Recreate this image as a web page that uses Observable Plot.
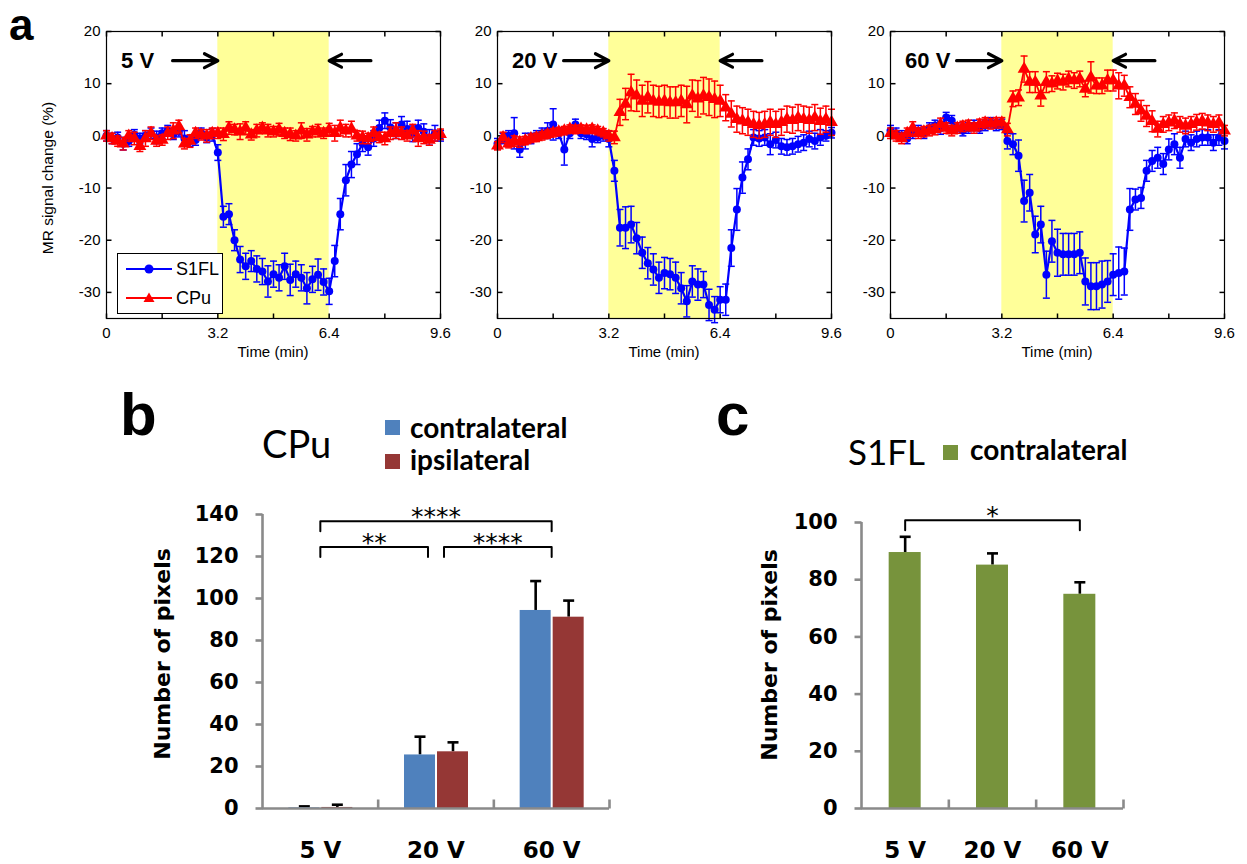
<!DOCTYPE html>
<html><head><meta charset="utf-8">
<script src="https://cdn.jsdelivr.net/npm/d3@7"></script>
<script src="https://cdn.jsdelivr.net/npm/@observablehq/plot@0.6"></script>
<style>
body{margin:0;background:#fff;}
#fig{position:relative;width:1247px;height:864px;overflow:hidden;background:#fff;font-family:"Liberation Sans",Arial,sans-serif;}
.abs{position:absolute;white-space:nowrap;}
.abs svg{overflow:visible;background:transparent;}
</style></head><body><div id="fig"></div>
<script>
// ---------- data: panel a (time courses) ----------
const time = [0,0.16,0.32,0.48,0.64,0.8,0.96,1.12,1.28,1.44,1.6,1.76,1.92,2.08,2.24,2.4,2.56,2.72,2.88,3.04,
3.2,3.36,3.52,3.68,3.84,4,4.16,4.32,4.48,4.64,4.8,4.96,5.12,5.28,5.44,5.6,5.76,5.92,6.08,6.24,6.4,
6.56,6.72,6.88,7.04,7.2,7.36,7.52,7.68,7.84,8,8.16,8.32,8.48,8.64,8.8,8.96,9.12,9.28,9.44,9.6];

const s1fl_5V = [0,-0.5,-0.3,-1.5,-1,0.2,-0.5,0,0.5,-0.3,0.5,1,0.3,0.8,-0.5,-1,-0.8,0.5,-0.3,0.2,
-3.2,-15.5,-15,-20,-23.7,-25,-24,-25.5,-26,-27.9,-26.5,-27.2,-25,-27.6,-26.5,-27.2,-29.2,-27.5,-26.6,-28,-29.8,
-24,-15,-8.5,-5.5,-3.5,-1.5,-2.2,-0.5,1.5,2.9,1.6,1,2.2,1.3,0.4,1.5,0.8,-0.3,0.5,0];
const s1flErr_5V = [1,1,1,1.2,1,1,1,1,1,1.2,1,1,1,1,1.5,1,1,1,1,1.2,
1.5,2,2,2,2.5,2.5,2,2.5,2.5,3,2.5,2.5,2.5,3,2.5,2.5,3,2.5,3,2.5,2.5,
3,3,3,2.5,2,1.5,1.5,1.5,1.5,1.5,1.5,1.5,1.5,1.5,1.5,1.5,1.5,1.5,1.5,1];
const cpu_5V = [0,-0.5,-1,-1.5,0,-0.5,-2,-0.5,0.5,-1,-0.8,0.5,1,1.8,-1.5,-1,0.5,0.2,0,0.5,
0.5,0.3,1.5,1.2,0.8,1.5,0.2,1,1.5,1,0.8,1.2,0.5,0.3,0,1,0.2,0.8,1,0.5,1.2,
0.5,1.5,1,1.3,0,-0.3,-0.5,0.5,-0.3,-0.5,0.5,1,0.5,0,1,-0.5,-0.3,-0.8,0,0.3];
const cpuErr_5V = [1,1,1,1.2,1,1.2,1,1.5,1.2,1,1,1.2,1.5,1.2,1,1.2,1,1,1.2,1,
1,1.2,1.2,1,1.5,1.2,1,1.2,1,1.2,1,1.2,1,1.2,1,1.5,1.2,1,1.2,1,1.2,
1.5,1.5,1.2,1.5,1,1.2,1,1.2,1,1.2,1.2,1.5,1.2,1,1.2,1.5,1.2,1,1,1];

const s1fl_20V = [-1.5,-0.5,0,0.5,-2.6,-1,-0.5,0,0.5,1,2.2,0.5,-2.6,0.5,2.2,0.5,0.3,-0.6,-0.3,0,
-0.6,-6.7,-17.6,-17.6,-17,-19.6,-22.4,-24.4,-25.6,-27.2,-26.3,-26.5,-27.2,-29.2,-31.7,-27.9,-28.5,-28.5,-32.4,-33.3,-31.4,
-31.4,-21.5,-14.1,-8,-4.5,-0.3,-0.5,-0.3,-1.6,-0.8,-2,-2.2,-2,-1.6,-1.3,-0.6,-1,-0.3,0,0.6];
const s1flErr_20V = [1,1,1,3,1.5,1.5,1,1,1,1.5,3,1,3,1,1,1,1,1.5,1,1,
1.5,2,3.5,4,3.5,3,3,3,3,3,3,3,3,3,3,3,3,2.5,3,2.5,2.5,
3,3.5,4,3,2,1.5,1.5,1.5,2,1.5,1.5,1.5,1.5,1.5,1.5,1.5,1.5,1.5,1,1];
const cpu_20V = [-1.9,-0.3,-1.5,-1,-1.2,-0.9,-0.5,-0.3,0,0.3,0.6,0.8,1,1.3,1.2,1.3,1.2,1.3,1,0.6,
0,-0.3,4.5,6.1,8.3,7.7,6.7,7.4,6.7,6.5,6.7,6.4,6.4,6.7,6,7.7,7.1,7.7,7.4,7,6.7,
5.4,4.2,3.2,2.9,2.6,2.2,2,2.2,2.6,2.2,2.6,3.2,3,3.5,3.2,3,3.5,2.8,3.2,2.6];
const cpuErr_20V = [0.8,1,0.8,1,1,0.8,0.8,0.8,0.8,0.8,0.8,0.8,0.8,0.8,0.8,0.8,0.8,0.8,0.8,0.8,
1,1.2,2.5,3,3.5,3,3,3,3,3,3,3,3,3,3.5,3,3.5,3.5,3.5,3.5,3,
2.5,2.5,2.5,2.5,2.5,2.5,2.5,2.5,2.5,2.5,2.5,2.5,2.5,2.5,2.5,2.5,2.5,2.5,2.5,2.5];

const s1fl_60V = [1,0.5,0,-0.5,0.5,1,0.5,1.5,2,1.5,3.5,2.9,1.5,1,1.5,2,1.5,2,2.5,2,
2.2,-1,-1.6,-3.8,-12.5,-10.9,-18.9,-17,-26.6,-20.2,-22.4,-22.7,-22.7,-22.7,-22.4,-27.9,-28.8,-28.8,-28.5,-27.9,-26.6,
-26.3,-26,-14.1,-12.2,-11.9,-6.7,-4.8,-4.2,-5.4,-2.6,-1.6,-4.2,-0.6,-1.3,-0.6,-0.3,-0.3,-1.3,-0.3,-1];
const s1flErr_60V = [1,1,1,1,1,1,1,1,1,1.2,1,1,1,1,1,1,1,1,1,1,
1,1.5,2,3,4,3.5,3.5,3.5,4.5,4,4.5,4,4,4,4,4.5,4.5,4.5,4.5,4,4,
5,4.5,4,2,2,2,2,2,2,2,2,2,1.5,1.5,1.5,1.5,1.5,1.5,1.5,1.5];
const cpu_60V = [0.5,0,-0.5,0.5,1.5,0.5,0.8,1,1.2,2.2,1.5,1,1.5,1.8,2,1.5,2.2,2.5,2.3,2.5,
2.5,1.2,7.1,7.3,12.8,10.3,10.3,7.7,10.3,10,10.5,10.3,10.9,10.6,10.9,9,11.2,9.6,9.6,10.6,10.6,
9.6,9.6,7.4,6.1,4.8,3.8,2.8,1.3,2.2,2.5,2.9,2.2,1.9,2.2,2.6,2.8,2.5,2.2,2.5,1];
const cpuErr_60V = [1,1,1,1,1.2,1,1,1,1,1.2,1,1,1,1,1,1,1,1,1,1,
1,1.2,1.5,1.5,2.5,2,2,2,2,1.5,1.5,1.5,1.5,1.5,1.5,1.5,3,1.5,1.5,2,2,
2.5,2,2,2,2,2,2,1.5,1.5,1.5,1.5,1.5,1.5,1.5,1.5,1.5,1.5,1.5,1.5,1];

const panelVolts = ["5 V", "20 V", "60 V"];
const stimBlock = [{start: 3.2, end: 6.4}];
const stimArrows = [{from: 1.9, to: 3.2, y: 14.4}, {from: 7.6, to: 6.4, y: 14.4}];
const timeTicks = [0, 1.6, 3.2, 4.8, 6.4, 8, 9.6];
const timeTickLabels = [0, 3.2, 6.4, 9.6];
const signalTicks = [-30, -20, -10, 0, 10, 20];

// ---------- data: panels b and c (bars) ----------
const voltages = ["5 V", "20 V", "60 V"];
const cpuContra = [0.3, 25.5, 94.3];
const cpuContraErr = [0.7, 8.7, 14];
const cpuIpsi = [0.5, 27, 91.1];
const cpuIpsiErr = [1.3, 4.5, 7.9];
const cpuTicks = [0, 20, 40, 60, 80, 100, 120, 140];
const cpuBrackets = [
  {from: "5 V", to: "60 V", y: 136.8, drop: 4.8, label: "****", gapL: 0, gapR: 0},
  {from: "5 V", to: "20 V", y: 124.5, drop: 4.7, label: "**", gapL: 0, gapR: 1},
  {from: "20 V", to: "60 V", y: 124.5, drop: 4.7, label: "****", gapL: 1, gapR: 0}
];
const s1flContra = [89.5, 85.1, 74.9];
const s1flContraErr = [5.5, 4.1, 4.2];
const s1flTicks = [0, 20, 40, 60, 80, 100];
const s1flBrackets = [{from: "5 V", to: "60 V", y: 100.8, drop: 3.5, label: "*", gapL: 0, gapR: 0}];

// ---------- helpers ----------
const fig = document.getElementById("fig");
function place(node, left, top, w) {
  const d = document.createElement("div");
  d.className = "abs"; d.style.left = left + "px"; d.style.top = top + "px";
  if (w) d.style.width = w + "px";
  d.appendChild(node); fig.appendChild(d); return d;
}
function label(text, left, top, css) {
  const d = document.createElement("div");
  d.className = "abs"; d.textContent = text;
  d.style.left = left + "px"; d.style.top = top + "px";
  Object.assign(d.style, css || {}); fig.appendChild(d); return d;
}
const seg = (x1, y1, x2, y2) => ({draw(ctx) { ctx.moveTo(x1, y1); ctx.lineTo(x2, y2); }});

// ---------- panel a ----------
const seriesA = [
  [s1fl_5V, s1flErr_5V, cpu_5V, cpuErr_5V],
  [s1fl_20V, s1flErr_20V, cpu_20V, cpuErr_20V],
  [s1fl_60V, s1flErr_60V, cpu_60V, cpuErr_60V]
];
const aLeft = [66, 457, 850];

function errMarks(rows, color) {
  return [
    Plot.ruleX(rows, {x: "t", y1: d => d.v - d.e, y2: d => d.v + d.e, stroke: color, strokeWidth: 1.5}),
    Plot.dot(rows, {x: "t", y: d => d.v + d.e, symbol: seg(-3.5, 0, 3.5, 0), fill: "none", stroke: color, strokeWidth: 1.5}),
    Plot.dot(rows, {x: "t", y: d => d.v - d.e, symbol: seg(-3.5, 0, 3.5, 0), fill: "none", stroke: color, strokeWidth: 1.5})
  ];
}

seriesA.forEach(([s1, s1e, cp, cpe], k) => {
  const rowsS = time.map((t, i) => ({t, v: s1[i], e: s1e[i]}));
  const rowsC = time.map((t, i) => ({t, v: cp[i], e: cpe[i]}));
  const p = Plot.plot({
    width: 384, height: 337, marginLeft: 40, marginRight: 10, marginTop: 10, marginBottom: 40,
    style: {fontFamily: "Liberation Sans, Arial, sans-serif", fontSize: "15px", color: "#000", background: "transparent", overflow: "visible"},
    x: {domain: [0, 9.6], ticks: timeTickLabels, tickFormat: d => d === 0 ? "0" : d.toFixed(1), tickSize: 0, tickPadding: 9, label: null},
    y: {domain: [-35, 20], ticks: signalTicks, tickFormat: d => String(d), tickSize: 0, tickPadding: 6, label: null},
    marks: [
      Plot.rect(stimBlock, {x1: "start", x2: "end", fill: "#ffff99"}),
      Plot.dot(timeTicks, {x: d => d, y: -35, symbol: seg(0, 0, 0, -5), fill: "none", stroke: "#000"}),
      Plot.dot(timeTicks, {x: d => d, y: 20, symbol: seg(0, 0, 0, 5), fill: "none", stroke: "#000"}),
      Plot.dot(signalTicks, {x: 0, y: d => d, symbol: seg(0, 0, 5, 0), fill: "none", stroke: "#000"}),
      Plot.dot(signalTicks, {x: 9.6, y: d => d, symbol: seg(0, 0, -5, 0), fill: "none", stroke: "#000"}),
      ...errMarks(rowsS, "#0000ff"),
      Plot.line(rowsS, {x: "t", y: "v", stroke: "#0000ff", strokeWidth: 2.2}),
      Plot.dot(rowsS, {x: "t", y: "v", r: 4, fill: "#0000ff"}),
      ...errMarks(rowsC, "#ff0000"),
      Plot.line(rowsC, {x: "t", y: "v", stroke: "#ff0000", strokeWidth: 1.8}),
      Plot.dot(rowsC, {x: "t", y: "v", r: 4.8, symbol: "triangle", fill: "#ff0000"}),
      Plot.arrow(stimArrows, {x1: "from", x2: "to", y1: "y", y2: "y", stroke: "#000", strokeWidth: 3.2, headLength: 12, headAngle: 55}),
      Plot.text([panelVolts[k]], {x: 0.42, y: 14.4, text: d => d, textAnchor: "start", fontWeight: "bold", fontSize: 22, fill: "#000"}),
      Plot.frame({stroke: "#000", strokeWidth: 1.2})
    ]
  });
  place(p, aLeft[k], 21, 384);
  label("Time (min)", aLeft[k] + 40, 343, {width: "334px", textAlign: "center", fontSize: "15px"});
});

label("MR signal change (%)", 48, 178, {fontSize: "15.5px", transform: "translate(-50%,-50%) rotate(-90deg)"});

// legend of panel a
(function () {
  const box = document.createElement("div");
  box.className = "abs";
  Object.assign(box.style, {left: "117px", top: "253px", width: "104px", height: "59px", border: "1px solid #000", background: "#fff"});
  const rows = [["S1FL", "#0000ff", "circle"], ["CPu", "#ff0000", "triangle"]];
  rows.forEach(([name, color, shape], i) => {
    const r = document.createElement("div");
    r.className = "abs";
    Object.assign(r.style, {left: "6px", top: (4 + i * 29) + "px", height: "22px", display: "flex", alignItems: "center", fontSize: "18px"});
    const mk = shape === "circle"
      ? `<circle cx="25" cy="11" r="4.5" fill="${color}"/>`
      : `<path d="M25,5.5 L30.5,15 L19.5,15 Z" fill="${color}"/>`;
    r.innerHTML = `<svg width="50" height="22" style="overflow:visible"><line x1="2" y1="11" x2="48" y2="11" stroke="${color}" stroke-width="2"/>${mk}</svg><span style="margin-left:2px">${name}</span>`;
    box.appendChild(r);
  });
  fig.appendChild(box);
})();

label("a", 9, 0, {fontSize: "44px", fontWeight: "bold", lineHeight: "normal"});

// ---------- bar panels ----------
function bracketLayer(brackets, unitPx) {
  const gap = 8 / unitPx;
  const pts = [];
  brackets.forEach((b, j) => {
    const xl = voltages.indexOf(b.from) + 0.5 + b.gapL * gap;
    const xr = voltages.indexOf(b.to) + 0.5 - b.gapR * gap;
    pts.push({j, x: xl, y: b.y - b.drop}, {j, x: xl, y: b.y}, {j, x: xr, y: b.y}, {j, x: xr, y: b.y - b.drop});
  });
  const mids = brackets.map(b => ({
    x: (voltages.indexOf(b.from) + voltages.indexOf(b.to)) / 2 + 0.5 + (b.gapL - b.gapR) * gap / 2,
    y: b.y, label: b.label
  }));
  return [
    Plot.line(pts, {x: "x", y: "y", z: "j", stroke: "#000", strokeWidth: 2}),
    Plot.text(mids, {x: "x", y: "y", text: "label", lineAnchor: "bottom", dy: 4, fontSize: 25, fontFamily: "DejaVu Sans, sans-serif", fill: "#000"})
  ];
}

function axisMarks(ticks, ymax) {
  const gray = "#8a8a8a";
  return [
    Plot.ruleY([0], {x1: 0, x2: 3, stroke: gray, strokeWidth: 2.6}),
    Plot.ruleX([0], {y1: 0, y2: ymax, stroke: gray, strokeWidth: 2.6}),
    Plot.dot(ticks, {x: 0, y: d => d, symbol: seg(-7, 0, 0, 0), fill: "none", stroke: gray, strokeWidth: 2.6}),
    Plot.dot(voltages.map((v, i) => i + 1), {x: d => d, y: 0, symbol: seg(0, 0, 0, -9), fill: "none", stroke: gray, strokeWidth: 2.6}),
    Plot.text(ticks, {x: 0, y: d => d, dx: -24, text: d => String(d), textAnchor: "end", fontSize: 21, fontWeight: "bold", fontFamily: "DejaVu Sans, sans-serif", fill: "#000"}),
    Plot.text(voltages, {x: (d, i) => i + 0.5, y: 0, dy: 33, lineAnchor: "top", text: d => d, fontSize: 23, fontWeight: "bold", fontFamily: "DejaVu Sans, sans-serif", fill: "#000"})
  ];
}

function barMarks(vals, errs, color, off, hw) {
  const rows = voltages.map((v, i) => ({i, v: vals[i], e: errs[i]}));
  return [
    Plot.ruleX(rows, {x: d => d.i + 0.5 + off, y1: "v", y2: d => d.v + d.e, stroke: "#000", strokeWidth: 2.6}),
    Plot.dot(rows, {x: d => d.i + 0.5 + off, y: d => d.v + d.e, symbol: seg(-5.5, 0, 5.5, 0), fill: "none", stroke: "#000", strokeWidth: 2.6}),
    Plot.rect(rows, {x1: d => d.i + 0.5 + off - hw, x2: d => d.i + 0.5 + off + hw, y1: 0, y2: "v", fill: color})
  ];
}

// b
const unitB = 347 / 3;
const plotB = Plot.plot({
  width: 447, height: 390, marginLeft: 80, marginRight: 20, marginTop: 40, marginBottom: 56,
  style: {background: "transparent", overflow: "visible", color: "#000"},
  x: {domain: [0, 3], axis: null},
  y: {domain: [0, 140], axis: null},
  marks: [
    ...barMarks(cpuContra, cpuContraErr, "#4f81bd", -16 / unitB, 15.5 / unitB),
    ...barMarks(cpuIpsi, cpuIpsiErr, "#953735", 17 / unitB, 15.5 / unitB),
    ...axisMarks(cpuTicks, 140),
    ...bracketLayer(cpuBrackets, unitB)
  ]
});
place(plotB, 182, 474, 447);

// c
const unitC = 262 / 3;
const plotC = Plot.plot({
  width: 362, height: 390, marginLeft: 80, marginRight: 20, marginTop: 48, marginBottom: 56,
  style: {background: "transparent", overflow: "visible", color: "#000"},
  x: {domain: [0, 3], axis: null},
  y: {domain: [0, 100], axis: null},
  marks: [
    ...barMarks(s1flContra, s1flContraErr, "#77933c", 0, 16 / unitC),
    ...axisMarks(s1flTicks, 100),
    ...bracketLayer(s1flBrackets, unitC)
  ]
});
place(plotC, 781, 474, 362);

// titles, legends, labels of b and c
const lato = {fontFamily: "Lato, sans-serif", lineHeight: "1"};
label("b", 120, 385, {fontSize: "60px", fontWeight: "bold", lineHeight: "60px"});
label("c", 716, 385, {fontSize: "60px", fontWeight: "bold", lineHeight: "60px"});
label("CPu", 262, 424, Object.assign({fontSize: "38px"}, lato));
label("S1FL", 848, 434, Object.assign({fontSize: "35px"}, lato));
function swatch(color, left, top) {
  const d = document.createElement("div");
  d.className = "abs";
  Object.assign(d.style, {left: left + "px", top: top + "px", width: "15px", height: "15px", background: color});
  fig.appendChild(d);
}
swatch("#4f81bd", 385, 420); label("contralateral", 410, 413, Object.assign({fontSize: "28px", fontWeight: "bold"}, lato));
swatch("#953735", 385, 454); label("ipsilateral", 410, 445, Object.assign({fontSize: "28px", fontWeight: "bold"}, lato));
swatch("#77933c", 943, 445); label("contralateral", 970, 435, Object.assign({fontSize: "28px", fontWeight: "bold"}, lato));
const yl = {fontFamily: "DejaVu Sans, sans-serif", fontSize: "22px", fontWeight: "bold", transform: "translate(-50%,-50%) rotate(-90deg)"};
label("Number of pixels", 162, 654, yl);
label("Number of pixels", 769, 655, yl);
</script></body></html>
